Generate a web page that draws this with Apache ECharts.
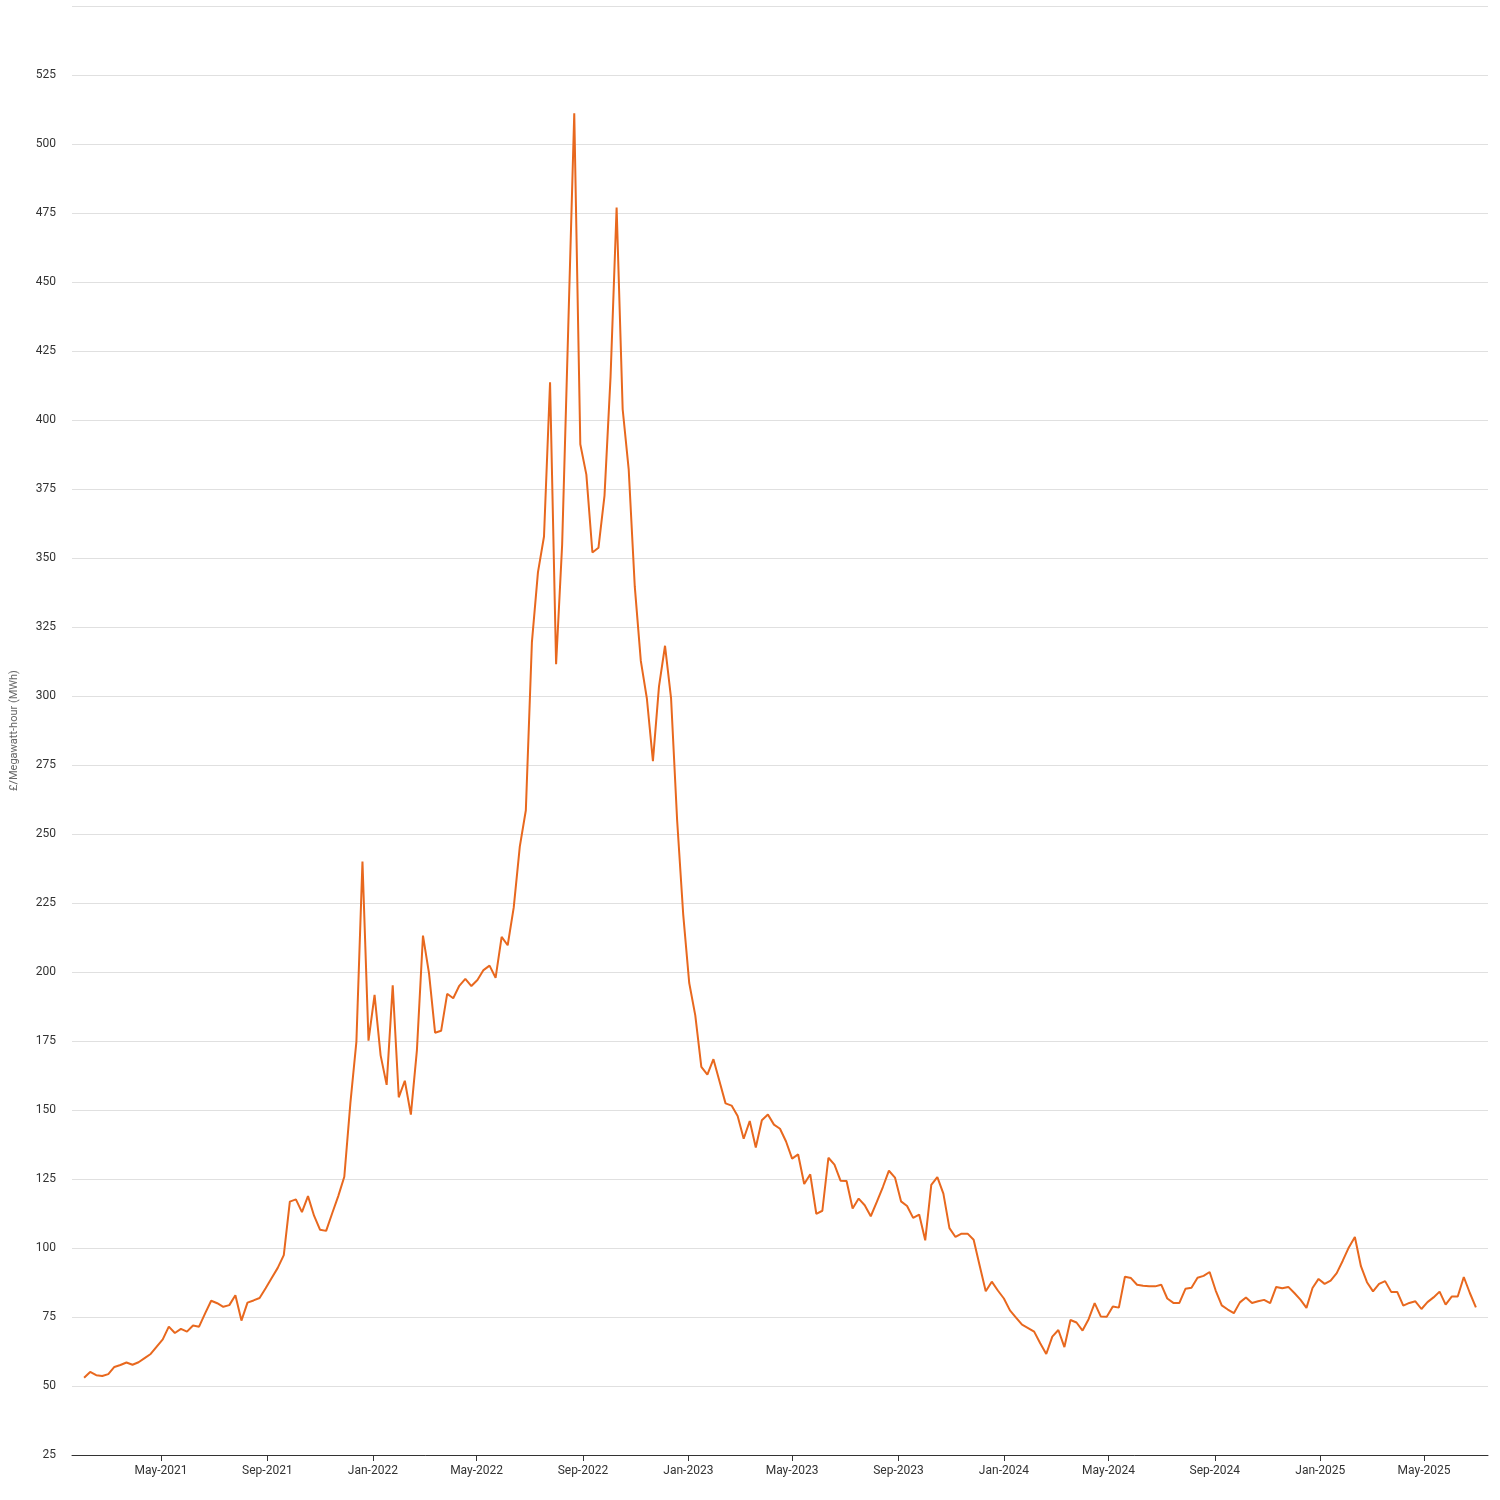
<!DOCTYPE html>
<html><head><meta charset="utf-8">
<script src="https://cdn.jsdelivr.net/npm/echarts@6/dist/echarts.min.js"></script>
<style>html,body{margin:0;padding:0;background:#fff}#c{width:1500px;height:1500px}</style>
</head><body><div id="c"></div>
<script>
const startDate = '2021-02-01';
const prices = [
53.0,55.1,53.9,53.6,54.3,56.9,57.6,58.5,57.7,58.6,60.1,61.6,64.3,66.9,71.5,69.2,70.7,69.7,71.9,71.5,76.3,80.9,80.0,78.7,79.3,82.9,73.7,80.2,81.0,81.9,85.4,89.1,92.8,97.4,116.8,117.6,113.0,118.8,111.7,106.6,106.2,112.6,118.8,
125.8,152.4,174.8,240.0,175.1,191.7,169.8,159.1,195.2,154.6,160.6,148.3,171.7,213.2,199.5,178.0,178.7,192.1,190.5,195.0,197.5,194.9,197.1,200.7,202.3,197.9,212.7,209.7,223.4,245.4,
258.6,319.4,344.8,357.8,413.7,311.5,354.9,433.0,511.1,391.2,380.2,352.0,353.7,372.6,415.7,477.0,403.9,382.0,339.7,312.7,299.1,276.4,303.4,318.2,299.1,
255.0,221.0,196.0,
184.3,165.6,162.8,168.4,160.4,152.4,151.6,147.8,139.6,146.0,136.4,146.3,148.4,144.7,143.2,138.6,132.4,133.9,123.2,126.7,112.4,113.5,132.7,130.2,124.4,124.3,114.3,117.9,115.5,111.5,116.7,122.1,128.0,125.5,116.9,115.2,110.9,112.1,102.8,122.9,125.7,119.7,107.2,
104.0,105.2,105.2,103.0,93.6,84.3,87.8,84.6,81.7,77.4,74.8,72.2,71.0,69.7,65.5,61.6,67.9,70.3,64.1,73.9,73.0,70.1,74.2,80.0,75.2,75.1,78.8,78.4,89.6,89.1,86.7,86.3,86.1,86.1,86.7,81.7,80.1,80.1,85.2,85.6,89.2,89.9,91.3,84.6,
79.2,77.7,76.4,80.3,82.1,80.1,80.7,81.2,80.0,85.9,85.4,85.9,83.7,81.3,78.3,85.5,88.8,87.0,88.2,90.9,95.4,100.2,104.0,93.4,87.6,84.3,87.0,88.0,84.1,84.1,79.1,80.1,80.7,77.9,80.4,82.1,84.2,79.5,82.4,82.4,89.5,83.7,78.5
];
const tickMonths = ['2021-05-01','2021-09-01','2022-01-01','2022-05-01','2022-09-01','2023-01-01','2023-05-01','2023-09-01','2024-01-01','2024-05-01','2024-09-01','2025-01-01','2025-05-01'];
const monthNames = ['Jan','Feb','Mar','Apr','May','Jun','Jul','Aug','Sep','Oct','Nov','Dec'];

const t0 = Date.parse(startDate + 'T00:00:00Z');
const WEEK = 7*86400000;
const data = prices.map((v,i)=>[t0 + i*WEEK, v]);
const ticks = tickMonths.map(d=>Date.parse(d+'T00:00:00Z'));

const chart = echarts.init(document.getElementById('c'), null, {renderer:'canvas'});
chart.setOption({
  animation:false,
  textStyle:{fontFamily:'Roboto'},
  grid:{left:72,right:12,top:6,bottom:45},
  xAxis:{
    type:'value',
    min:Date.parse('2021-01-18T00:00:00Z'),
    max:Date.parse('2025-07-14T00:00:00Z'),
    axisLine:{lineStyle:{color:'#333',width:1}},
    axisTick:{show:true,customValues:ticks,length:6,lineStyle:{color:'#333'}},
    axisLabel:{customValues:ticks,color:'#333',fontSize:12,margin:10,showMinLabel:true,showMaxLabel:true,
      formatter:v=>{const d=new Date(v);return monthNames[d.getUTCMonth()]+'-'+d.getUTCFullYear();}},
    splitLine:{show:false}
  },
  yAxis:{
    type:'value',min:25,max:550,interval:25,
    name:'£/Megawatt-hour (MWh)',nameLocation:'middle',nameGap:52,
    nameTextStyle:{color:'#666',fontSize:11},
    axisLine:{show:false},axisTick:{show:false},
    axisLabel:{color:'#333',fontSize:12,margin:16,formatter:v=>v===550?'':v},
    splitLine:{lineStyle:{color:'#e0e0e0',width:1}}
  },
  series:[{type:'line',data:data,showSymbol:false,symbol:'none',
    lineStyle:{color:'#e8681e',width:2},itemStyle:{color:'#e8681e'}}]
});
</script></body></html>
